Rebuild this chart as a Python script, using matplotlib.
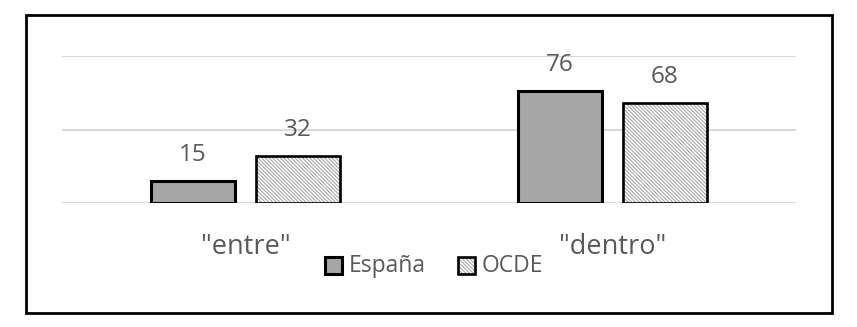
import matplotlib
matplotlib.use("Agg")
import matplotlib.pyplot as plt
import matplotlib.transforms as mtransforms
import numpy as np
from matplotlib.patches import Rectangle
from matplotlib.legend_handler import HandlerBase

categories = ['"entre"', '"dentro"']
series_names = ["España", "OCDE"]
espana = [15, 76]
ocde = [32, 68]

plt.rcParams['font.family'] = ['Open Sans', 'DejaVu Sans']
plt.rcParams['hatch.linewidth'] = 0.8

W, H = 857, 327
fig = plt.figure(figsize=(W/100, H/100), dpi=100)
fig.patches.append(Rectangle((26/W, 1-313/H), (832-26)/W, (313-15)/H, transform=fig.transFigure,
                             fill=False, edgecolor='black', linewidth=2))

ax = fig.add_axes([62/W, 1-203/H, (796-62)/W, (203-56)/H])
x = np.arange(len(categories))
bw = 0.23
off = 0.143
text_col = '#595959'
hatch_col = '#a8a8a8'
HATCH = '\\' * 9
b1 = ax.bar(x-off, espana, bw, color='#a6a6a6', edgecolor='black', linewidth=2.2, zorder=3)
ax.bar(x+off, ocde, bw, color='white', edgecolor=hatch_col, linewidth=0, hatch=HATCH, zorder=3)
b2 = ax.bar(x+off, ocde, bw, fill=False, edgecolor='black', linewidth=1.9, zorder=4)
for bars, vals in ((b1, espana), (b2, ocde)):
    for r, v in zip(bars, vals):
        ax.annotate(str(v), (r.get_x()+r.get_width()/2, v), xytext=(0, 14.5), textcoords='offset points',
                    ha='center', va='baseline', fontsize=17.5, color=text_col, annotation_clip=False)

ax.set_xlim(-0.5, 1.5)
ax.set_ylim(0, 100)
ax.set_yticks([0, 50, 100])
ax.yaxis.grid(True, color='#d9d9d9', linewidth=1.5, zorder=0)
ax.set_axisbelow(True)
ax.tick_params(axis='y', left=False, labelleft=False)
ax.set_xticks([])
for s in ax.spines.values():
    s.set_visible(False)
blend = mtransforms.blended_transform_factory(ax.transData, fig.transFigure)
for xi, c in zip(x, categories):
    ax.text(xi, 1-254/H, c, transform=blend, ha='center', va='baseline', fontsize=19.5, color=text_col)

class SquareHandler(HandlerBase):
    def __init__(self, hatched):
        super().__init__()
        self.hatched = hatched
    def create_artists(self, legend, orig_handle, xdescent, ydescent, width, height, fontsize, trans):
        s = height * 1.0
        y0 = -ydescent + (height - s) / 2 - 1
        arts = []
        if self.hatched:
            arts.append(Rectangle((-xdescent, y0), s, s, facecolor='white', edgecolor=hatch_col,
                                  linewidth=0, hatch=HATCH, transform=trans))
            arts.append(Rectangle((-xdescent, y0), s, s, fill=False, edgecolor='black',
                                  linewidth=1.9, transform=trans))
        else:
            arts.append(Rectangle((-xdescent, y0), s, s, facecolor='#a6a6a6', edgecolor='black',
                                  linewidth=2.2, transform=trans))
        return arts

h1 = Rectangle((0, 0), 1, 1)
h2 = Rectangle((0, 0), 1, 1)
leg = fig.legend(handles=[h1, h2], labels=series_names, loc='center', bbox_to_anchor=(434/W, 1-266/H),
                 ncol=2, frameon=False, fontsize=16.5, labelcolor=text_col,
                 handler_map={h1: SquareHandler(False), h2: SquareHandler(True)},
                 handlelength=0.8, handleheight=0.8, handletextpad=0.25, columnspacing=1.4,
                 borderpad=0, borderaxespad=0)

fig.savefig('out.png', dpi=100)
